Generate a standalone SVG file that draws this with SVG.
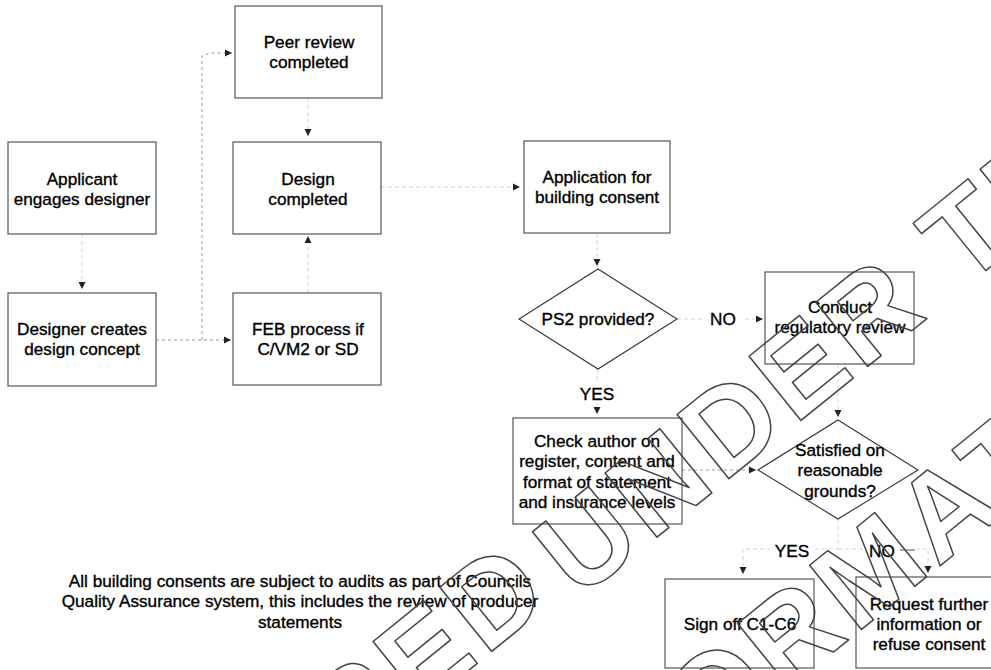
<svg xmlns="http://www.w3.org/2000/svg" width="991" height="670" viewBox="0 0 991 670">
<defs>
<marker id="ah" markerUnits="userSpaceOnUse" markerWidth="8" markerHeight="8" refX="7" refY="4" orient="auto">
<path d="M0,0.5 L7,4 L0,7.5 Z" fill="#222"/>
</marker>
<style>
.box{fill:none;stroke:#555;stroke-width:1.2}
.dia{fill:none;stroke:#333;stroke-width:1.1}
.t{font-family:"Liberation Sans",Arial,sans-serif;font-size:17.2px;fill:#000;stroke:#000;stroke-width:0.35;text-anchor:middle}
.c{fill:none;stroke:#d4d4d4;stroke-width:1;stroke-dasharray:4 3}
.cv{fill:none;stroke:#999;stroke-width:1;stroke-dasharray:3 3}
.wm{font-family:"Liberation Sans",Arial,sans-serif;font-weight:bold;font-size:120px;letter-spacing:6px;fill:none;stroke:#444;stroke-width:1.5;stroke-linejoin:round}
</style>
</defs>
<rect width="991" height="670" fill="#fff"/>

<g id="connectors">
<path class="c" d="M82,234 V289" marker-end="url(#ah)"/>
<path class="cv" d="M156,340 H231" marker-end="url(#ah)"/>
<path class="cv" d="M202,340 V56 L210,53 H232" marker-end="url(#ah)"/>
<path class="c" d="M308,98 V136" marker-end="url(#ah)"/>
<path class="c" d="M308,293 V236" marker-end="url(#ah)"/>
<path class="c" d="M381,187 H520" marker-end="url(#ah)"/>
<path class="c" d="M597,233 V266" marker-end="url(#ah)"/>
<path class="c" d="M677,319 H703 M745,319 H763" marker-end="url(#ah)"/>
<path class="c" d="M597,369 V383 M597,403 V414" marker-end="url(#ah)"/>
<path class="cv" d="M682,470 H756" marker-end="url(#ah)"/>
<path class="c" d="M838,364 V417" marker-end="url(#ah)"/>
<path class="c" d="M838,519 V549 H814 M771,549 H743 V574" marker-end="url(#ah)"/>
<path class="c" d="M838,549 H864 M916,549 H928 V573" marker-end="url(#ah)"/>
<path d="M900,550 H915" stroke="#555" stroke-width="1"/>
<text class="t" x="723" y="325">NO</text>
<text class="t" x="597" y="400">YES</text>
<text class="t" x="792" y="557">YES</text>
<text class="t" x="882" y="557">NO</text>
</g>

<g id="peer"><rect class="box" x="235" y="6" width="147" height="92"/>
<text class="t" x="309" y="48">Peer review</text><text class="t" x="309" y="68">completed</text></g>

<g id="applicant"><rect class="box" x="8" y="142" width="148" height="92"/>
<text class="t" x="82" y="185">Applicant</text><text class="t" x="82" y="205">engages designer</text></g>

<g id="design"><rect class="box" x="233" y="142" width="148" height="92"/>
<text class="t" x="308" y="185">Design</text><text class="t" x="308" y="205">completed</text></g>

<g id="designer"><rect class="box" x="8" y="293" width="148" height="93"/>
<text class="t" x="82" y="335">Designer creates</text><text class="t" x="82" y="355">design concept</text></g>

<g id="feb"><rect class="box" x="233" y="293" width="148" height="92"/>
<text class="t" x="308" y="335">FEB process if</text><text class="t" x="308" y="355">C/VM2 or SD</text></g>

<g id="application"><rect class="box" x="524" y="141" width="146" height="92"/>
<text class="t" x="597" y="183">Application for</text><text class="t" x="597" y="203">building consent</text></g>

<g id="ps2"><path class="dia" d="M598,269 L677,319 L598,369 L519,319 Z"/>
<text class="t" x="598" y="325">PS2 provided?</text></g>

<g id="conduct"><rect class="box" x="765" y="272" width="149" height="92"/>
<text class="t" x="840" y="313">Conduct</text><text class="t" x="840" y="333">regulatory review</text></g>

<g id="check"><rect class="box" x="513" y="418" width="169" height="106"/>
<text class="t" x="597" y="447">Check author on</text><text class="t" x="597" y="467">register, content and</text>
<text class="t" x="597" y="488">format of statement</text><text class="t" x="597" y="508">and insurance levels</text></g>

<g id="satisfied"><path class="dia" d="M838,420 L918,470 L838,519 L758,470 Z"/>
<text class="t" x="840" y="456">Satisfied on</text><text class="t" x="840" y="476">reasonable</text><text class="t" x="840" y="497">grounds?</text></g>

<g id="signoff"><rect class="box" x="665" y="579" width="149" height="89"/>
<text class="t" x="740" y="630">Sign off C1-C6</text></g>

<g id="request"><rect class="box" x="856" y="577" width="149" height="91"/>
<text class="t" x="929" y="610">Request further</text><text class="t" x="929" y="630">information or</text><text class="t" x="929" y="650">refuse consent</text></g>

<g id="note">
<text class="t" x="300" y="587">All building consents are subject to audits as part of Councils</text>
<text class="t" x="300" y="607">Quality Assurance system, this includes the review of producer</text>
<text class="t" x="300" y="628">statements</text>
</g>

<g id="watermark">
<g transform="translate(585,540) rotate(-39)">
<text class="wm" x="-58" y="28" text-anchor="end">RELEASED</text>
<text class="wm" x="-43" y="43">UNDER THE</text>
</g>
<g transform="translate(790,632) rotate(-39)">
<text class="wm" x="-393" y="43" text-anchor="end">OFFICIAL</text>
<text class="wm" x="-354" y="43">INFORMATION ACT</text>
</g>
</g>
</svg>
